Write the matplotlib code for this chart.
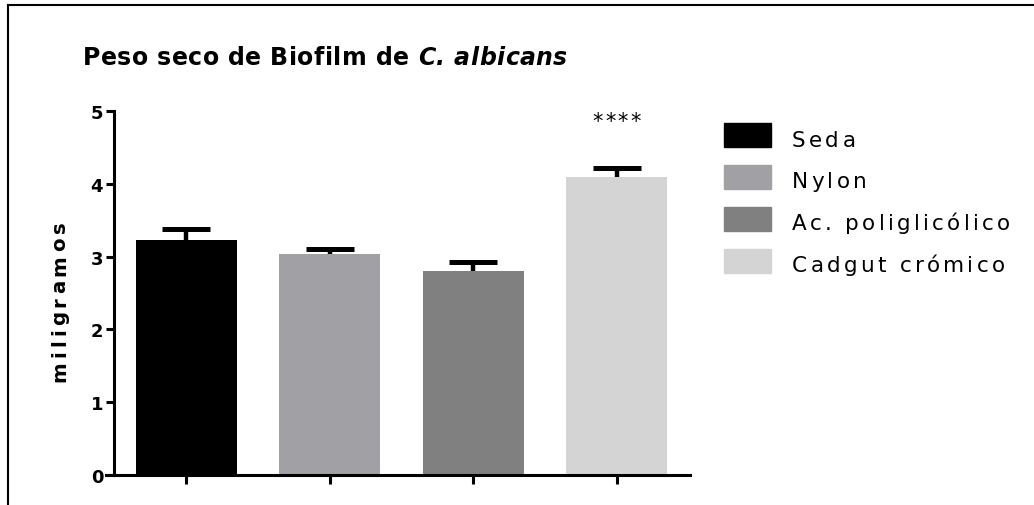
import matplotlib
matplotlib.use('Agg')
import matplotlib.pyplot as plt
import matplotlib.transforms as mtransforms
from matplotlib.font_manager import FontProperties
from matplotlib.patches import Rectangle
from matplotlib.lines import Line2D
import numpy as np


""" Data """
categories = ['Seda', 'Nylon', 'Ac. poliglicólico', 'Cadgut crómico']
means = [3.23, 3.04, 2.80, 4.10]
sem = [0.15, 0.065, 0.125, 0.12]
colors = ['#000000', '#a1a1a5', '#808080', '#d4d4d4']
signif = ['', '', '', '****']
title_plain = 'Peso seco de Biofilm de '
title_species = 'C. albicans'
y_label = 'miligramos'
y_ticks = [0, 1, 2, 3, 4, 5]


""" Figure (sizes in pixels, dpi 100) """
W, H = 1034, 506
fig = plt.figure(figsize=(W / 100, H / 100), dpi=100)
ax = fig.add_axes([114 / W, 30 / H, 576 / W, 364 / H])

x = np.arange(len(categories))
ax.bar(x, means, width=0.704, color=colors, zorder=2)
# symmetric bars drawn behind the columns, so only the upper half shows
ax.errorbar(x, means, yerr=sem, fmt='none', ecolor='black',
            elinewidth=3.2, capsize=17.3, capthick=3.6, zorder=1)

ax.set_xlim(-0.502, 3.512)
ax.set_ylim(0, 5)
ax.set_yticks(y_ticks)
ax.set_xticks(x)
ax.set_xticklabels([])
ax.spines[['top', 'right']].set_visible(False)
for s in ['left', 'bottom']:
    ax.spines[s].set_linewidth(2.2)
ax.spines['bottom'].set_bounds(-0.502 - 8 / 143.5, 3.512)
ax.tick_params(axis='y', length=5.8, width=2.2, pad=2, labelsize=13)
ax.tick_params(axis='x', length=6.5, width=2.2)
for lab in ax.get_yticklabels():
    lab.set_fontweight('bold')


""" Letter-spaced text, drawn char by char """
renderer = fig.canvas.get_renderer()
ident = mtransforms.IdentityTransform()


def text_width(s, fp):
    return renderer.get_text_width_height_descent(s, fp, ismath=False)[0]


def spaced_text(parts, x0, y0, target=None, track=0.0, rotation=0, ha='left', va='baseline'):
    chars = []
    start = 0.0
    for s, fp in parts:
        ref = text_width('H', fp)
        for i, ch in enumerate(s):
            off = text_width(s[:i] + 'H', fp) - ref if i else 0.0
            chars.append((ch, fp, start + off))
        start += text_width(s + 'H', fp) - ref
    last_ch, last_fp, last_off = chars[-1]
    natural = last_off + text_width(last_ch, last_fp)
    if target is not None:
        track = (target - natural) / (len(chars) - 1)
    total = natural + track * (len(chars) - 1)
    shift = -total / 2 if ha == 'center' else 0.0
    ang = np.radians(rotation)
    dx, dy = np.cos(ang), np.sin(ang)
    for k, (ch, fp, off) in enumerate(chars):
        if ch == ' ':
            continue
        d = off + k * track + shift
        fig.text(x0 + d * dx, y0 + d * dy, ch, fontproperties=fp, rotation=rotation,
                 rotation_mode='anchor', ha='left', va=va, transform=ident)


fp_title = FontProperties(family='DejaVu Sans', weight='bold', size=17)
fp_title_it = FontProperties(family='DejaVu Sans', weight='bold', style='italic', size=17)
fp_ylab = FontProperties(family='DejaVu Sans', weight='bold', size=14.2)
fp_leg = FontProperties(family='DejaVu Sans', size=15.5)
fp_star = FontProperties(family='DejaVu Sans', size=15)

# title
spaced_text([(title_plain, fp_title), (title_species, fp_title_it)], 83, H - 65, target=484)

# y label
spaced_text([(y_label, fp_ylab)], 65, H - 381.7, target=160, rotation=90)

# significance marks
for i, mark in enumerate(signif):
    if mark:
        cx, cy = ax.transData.transform((x[i], 4.86))
        spaced_text([(mark, fp_star)], cx, cy, target=48, ha='center', va='center')

# legend
for i, (cat, c) in enumerate(zip(categories, colors)):
    fig.add_artist(Rectangle((724 / W, (H - 148 - 42 * i) / H), 47 / W, 24 / H,
                             transform=fig.transFigure, color=c))
    spaced_text([(cat, fp_leg)], 792, H - 146.7 - 41.8 * i, track=3.3)

# outer frame (top and left only)
fig.add_artist(Line2D([8 / W, 1], [1 - 6 / H, 1 - 6 / H], transform=fig.transFigure,
                      color='black', lw=1.5))
fig.add_artist(Line2D([8 / W, 8 / W], [0, 1 - 6 / H], transform=fig.transFigure,
                      color='black', lw=1.5))

fig.savefig('out.png', dpi=100)
